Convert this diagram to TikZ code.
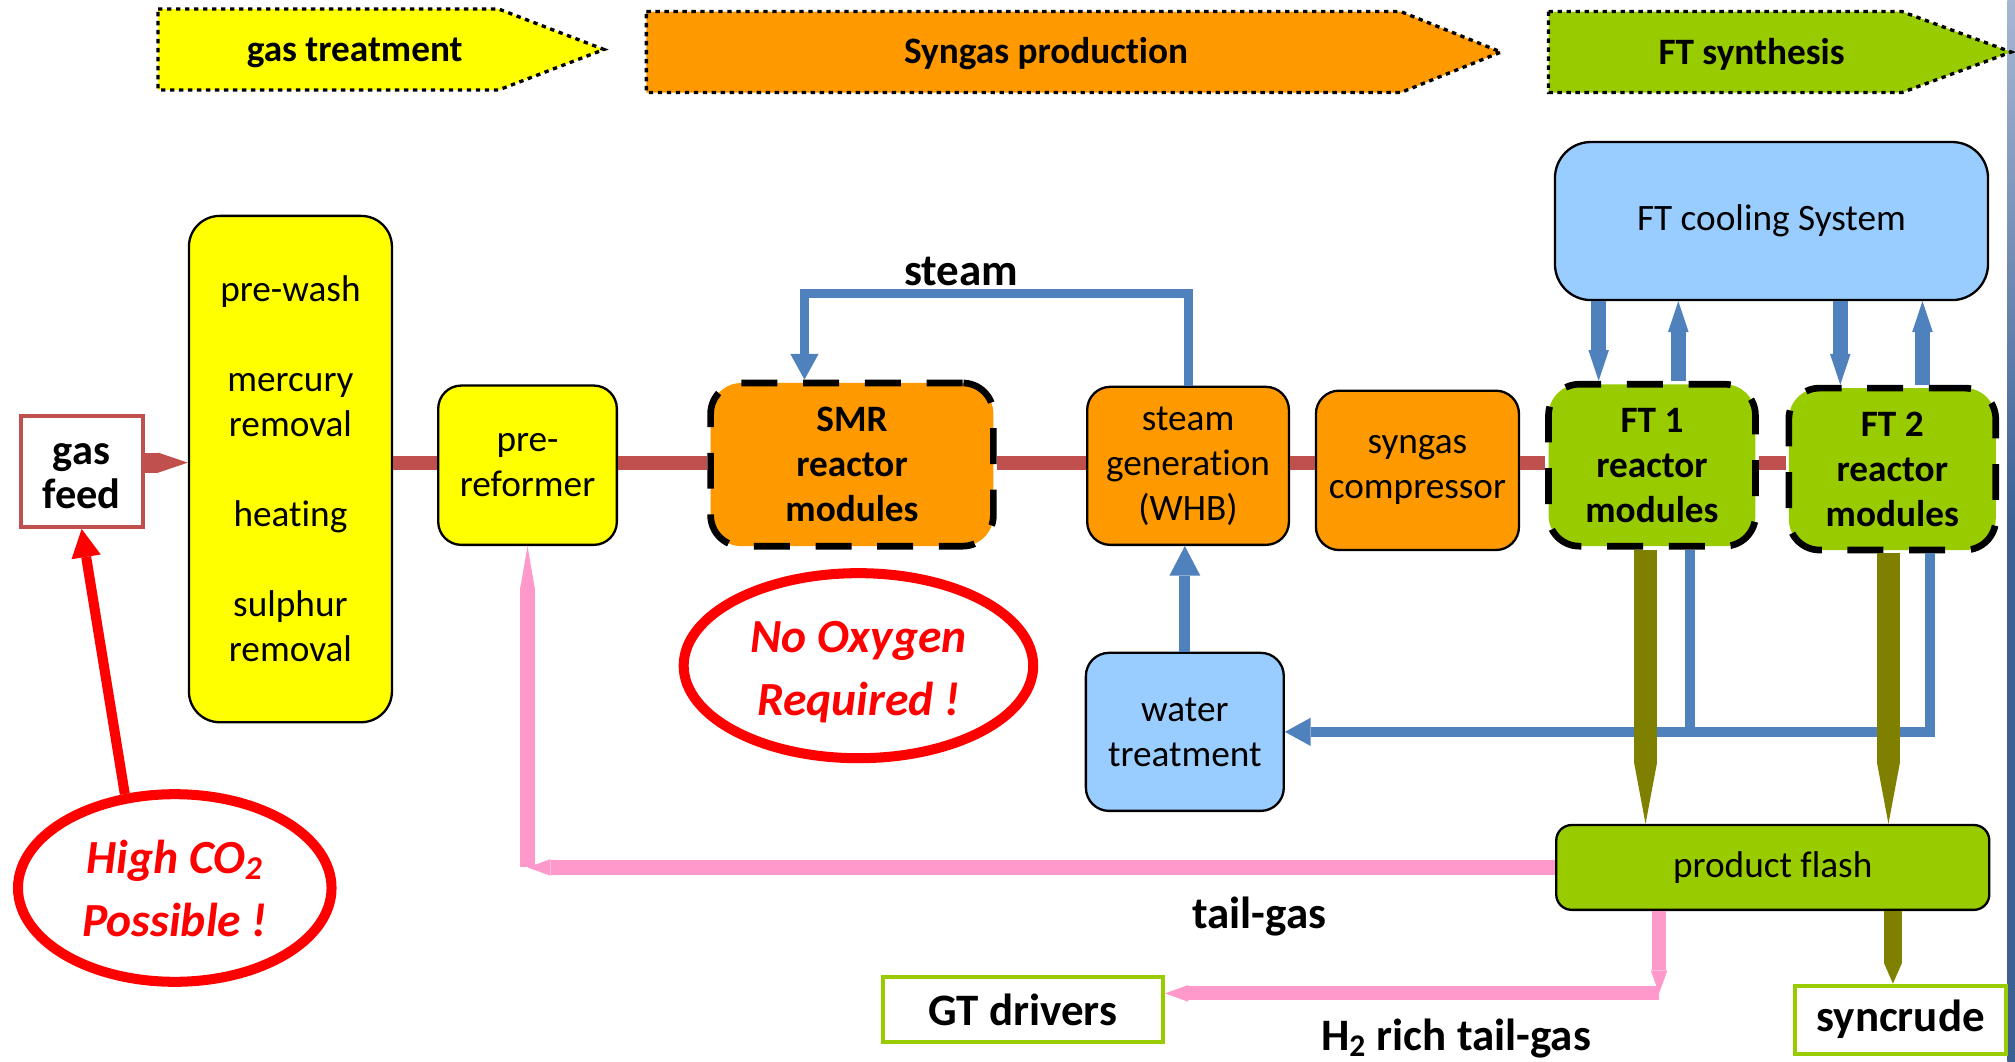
\documentclass[tikz,border=0pt]{standalone}
\usepackage{fontspec}
\setmainfont{Carlito}[Ligatures=NoCommon]
\usetikzlibrary{arrows.meta,shapes.geometric}

\definecolor{boxyellow}{HTML}{FFFF00}
\definecolor{boxorange}{HTML}{FF9900}
\definecolor{boxgreen}{HTML}{99CC00}
\definecolor{boxblue}{HTML}{99CCFF}
\definecolor{flowred}{HTML}{C0504D}
\definecolor{waterblue}{HTML}{4F81BD}
\definecolor{crudeolive}{HTML}{808000}
\definecolor{tailpink}{HTML}{FF99CC}
\definecolor{noteRed}{HTML}{FF0000}
\definecolor{edgelight}{HTML}{A7B7D2}
\definecolor{edgedark}{HTML}{3A6094}

\begin{document}
\begin{tikzpicture}[x=0.5pt, y=-0.5pt,
    banner/.style={draw, line width=1.3pt, dash pattern=on 1.7pt off 1.8pt},
    bannertxt/.style={font=\bfseries\fontsize{14.5}{17.5}\selectfont},
    unitbox/.style={draw, line width=0.9pt, rounded corners=9pt, inner sep=0pt,
      align=center, font=\fontsize{14.5}{17.5}\selectfont},
    reactor/.style={draw, line width=2.6pt, dash pattern=on 14pt off 10pt,
      rounded corners=12pt, inner sep=0pt, align=center,
      font=\bfseries\fontsize{14.5}{17.5}\selectfont},
    outbox/.style={draw=boxgreen, line width=1.6pt, fill=white, inner sep=0pt,
      font=\bfseries\fontsize{17.5}{20}\selectfont},
    remark/.style={ellipse, draw=noteRed, line width=3.9pt, fill=white, inner sep=0pt,
      align=center, text=noteRed, font=\bfseries\itshape\fontsize{18.5}{24.5}\selectfont},
    flowlabel/.style={font=\bfseries\fontsize{17.5}{20}\selectfont},
    mainflow/.style={draw=flowred, line width=5.5pt},
    feedarrow/.style={draw=flowred, line width=7.8pt, -{Triangle[length=11.5pt, width=7.8pt, line width=0pt]}},
    steamline/.style={draw=waterblue, line width=3.5pt, -{Triangle[length=10pt, width=11pt, line width=0pt]}},
    returnline/.style={draw=waterblue, line width=4pt},
    coolarrow/.style={draw=waterblue, line width=6pt, -{Triangle[length=12pt, width=8pt, line width=0pt]}},
    oilarrow/.style={draw=crudeolive, line width=9pt, -{Triangle[length=24pt, width=9pt, line width=0pt]}},
    pinkarrow/.style={draw=tailpink, line width=5.5pt, -{Triangle[length=9pt, width=6.5pt, line width=0pt]}},
    callout/.style={draw=noteRed, line width=3.9pt, -{Triangle[length=11pt, width=11.5pt, line width=0pt]}}
  ]
  \useasboundingbox (0,0) rectangle (1568,826);
  \fill[white] (0,0) rectangle (1568,826);
  \shade[top color=edgelight, bottom color=edgedark, middle color=edgedark] (1562,0) rectangle (1568,826);

  % stage banners
  \draw[banner, fill=boxyellow] (123,7) -- (388,7) -- (470,38.5) -- (388,70) -- (123,70) -- cycle;
  \draw[banner, fill=boxorange] (503,9) -- (1090,9) -- (1168,40.5) -- (1090,72) -- (503,72) -- cycle;
  \draw[banner, fill=boxgreen] (1205,9) -- (1480,9) -- (1565,40.5) -- (1480,72) -- (1205,72) -- cycle;
  \node[bannertxt] (gastreat) at (276,41) {gas treatment};
  \node[bannertxt] (synprod) at (814,42) {Syngas production};
  \node[bannertxt] (ftsyn) at (1363,42) {FT synthesis};

  % process units
  \node[draw=flowred, line width=1.6pt, fill=white, minimum width=47.5pt, minimum height=43pt,
    inner sep=0pt, align=center, font=\bfseries\fontsize{16.5}{17}\selectfont] (feed) at (63.5,367) {\strut gas\\feed};
  \node[unitbox, fill=boxyellow, rounded corners=12pt, minimum width=79pt, minimum height=197pt] (pretreat) at (226,365)
    {pre-wash\\[17.5pt]mercury\\removal\\[17.5pt]heating\\[17.5pt]sulphur\\removal};
  \node[unitbox, fill=boxyellow, minimum width=69.5pt, minimum height=62pt] (prere) at (410.5,362) {pre-\\reformer};
  \node[reactor, fill=boxorange, minimum width=110pt, minimum height=63.5pt] (smr) at (663,361.5) {SMR\\reactor\\modules};
  \node[unitbox, fill=boxorange, minimum width=78.5pt, minimum height=61.5pt] (whb) at (924.5,362.5) {steam\\generation\\(WHB)};
  \node[unitbox, fill=boxorange, minimum width=79pt, minimum height=62pt] (comp) at (1103,366) {syngas\\compressor};
  \node[reactor, fill=boxgreen, minimum width=80.5pt, minimum height=63pt] (ft1) at (1285.5,362) {FT 1\\reactor\\modules};
  \node[reactor, fill=boxgreen, minimum width=80.5pt, minimum height=63pt] (ft2) at (1472.5,365) {FT 2\\reactor\\modules};
  \node[unitbox, fill=boxblue, rounded corners=14pt, minimum width=168.5pt, minimum height=61.5pt] (cool) at (1378.5,172) {FT cooling System};
  \node[unitbox, fill=boxblue, minimum width=77pt, minimum height=61.5pt] (water) at (922,569.5) {water\\treatment};
  \node[unitbox, fill=boxgreen, rounded corners=6pt, minimum width=168.5pt, minimum height=33pt] (flash) at (1379.5,675) {product flash};
  \node[outbox, minimum width=109pt, minimum height=25.5pt] (gt) at (796,785.5) {GT drivers};
  \node[outbox, minimum width=82pt, minimum height=26.5pt] (crude) at (1479,793.5) {syncrude};

  % remarks
  \node[remark, minimum width=136pt, minimum height=72pt] (nooxy) at (668,518) {\strut No Oxygen\\Required !};
  \node[remark, minimum width=122pt, minimum height=73pt] (hico) at (136,691) {High CO\textsubscript{2}\\Possible !};
  \draw[callout] (hico.118) -- (feed.south);

  % main gas line
  \coordinate (flowy) at (0,360);
  \draw[feedarrow] (feed.east |- flowy) -- (pretreat.west |- flowy);
  \foreach \a/\b in {pretreat/prere, prere/smr, smr/whb, whb/comp, comp/ft1, ft1/ft2}
    \draw[mainflow] (\a.east |- flowy) -- (\b.west |- flowy);

  % steam and water
  \draw[steamline] (whb.north) -- ++(0,-72) -| ([xshift=-18.5pt]smr.north);
  \node[flowlabel] (steamlbl) at (748,211) {steam};
  \draw[steamline, line width=4.2pt, -{Triangle[length=11.5pt, width=12pt, line width=0pt]}] (water.north) -- (water.north |- whb.south);

  % cooling loops
  \foreach \f/\dx/\ux in {ft1/-20.75pt/10.25pt, ft2/-20.25pt/11.75pt} {
    \coordinate (\f-dn) at ([xshift=\dx]\f.north);
    \coordinate (\f-up) at ([xshift=\ux]\f.north);
    \draw[coolarrow] (\f-dn |- cool.south) -- (\f-dn);
    \draw[coolarrow] (\f-up) -- (\f-up |- cool.south);
  }
  \coordinate (ret1) at ([xshift=14.75pt]ft1.south);
  \coordinate (ret2) at ([xshift=14.75pt]ft2.south);
  \draw[returnline] (ret1) -- (ret1 |- water.east);
  \draw[steamline, line width=4pt] (ret2) |- (water.east);

  % products
  \draw[oilarrow] ([xshift=-2.5pt]ft1.south) -- ([xshift=-2.5pt]ft1.south |- flash.north);
  \draw[oilarrow] ([xshift=-1.5pt]ft2.south) -- ([xshift=-1.5pt]ft2.south |- flash.north);
  \draw[oilarrow, line width=7pt, -{Triangle[length=8pt, width=7pt, line width=0pt]}] ([xshift=-3pt]crude.north |- flash.south) -- ([xshift=-3pt]crude.north);

  % tail gas
  \coordinate (tailturn) at (prere.south |- flash.west);
  \draw[pinkarrow] (flash.west) -- (tailturn);
  \draw[pinkarrow, -{Triangle[length=16pt, width=5.5pt, line width=0pt]}] (tailturn) -- (prere.south);
  \node[flowlabel] (taillbl) at (980,713) {tail-gas};
  \coordinate (h2turn) at (1291,773);
  \draw[pinkarrow] (flash.south -| h2turn) -- (h2turn);
  \draw[pinkarrow] (h2turn) -- (gt.east |- h2turn);
  \node[flowlabel] (h2lbl) at (1133,808) {H\textsubscript{2} rich tail-gas};
\end{tikzpicture}
\end{document}
